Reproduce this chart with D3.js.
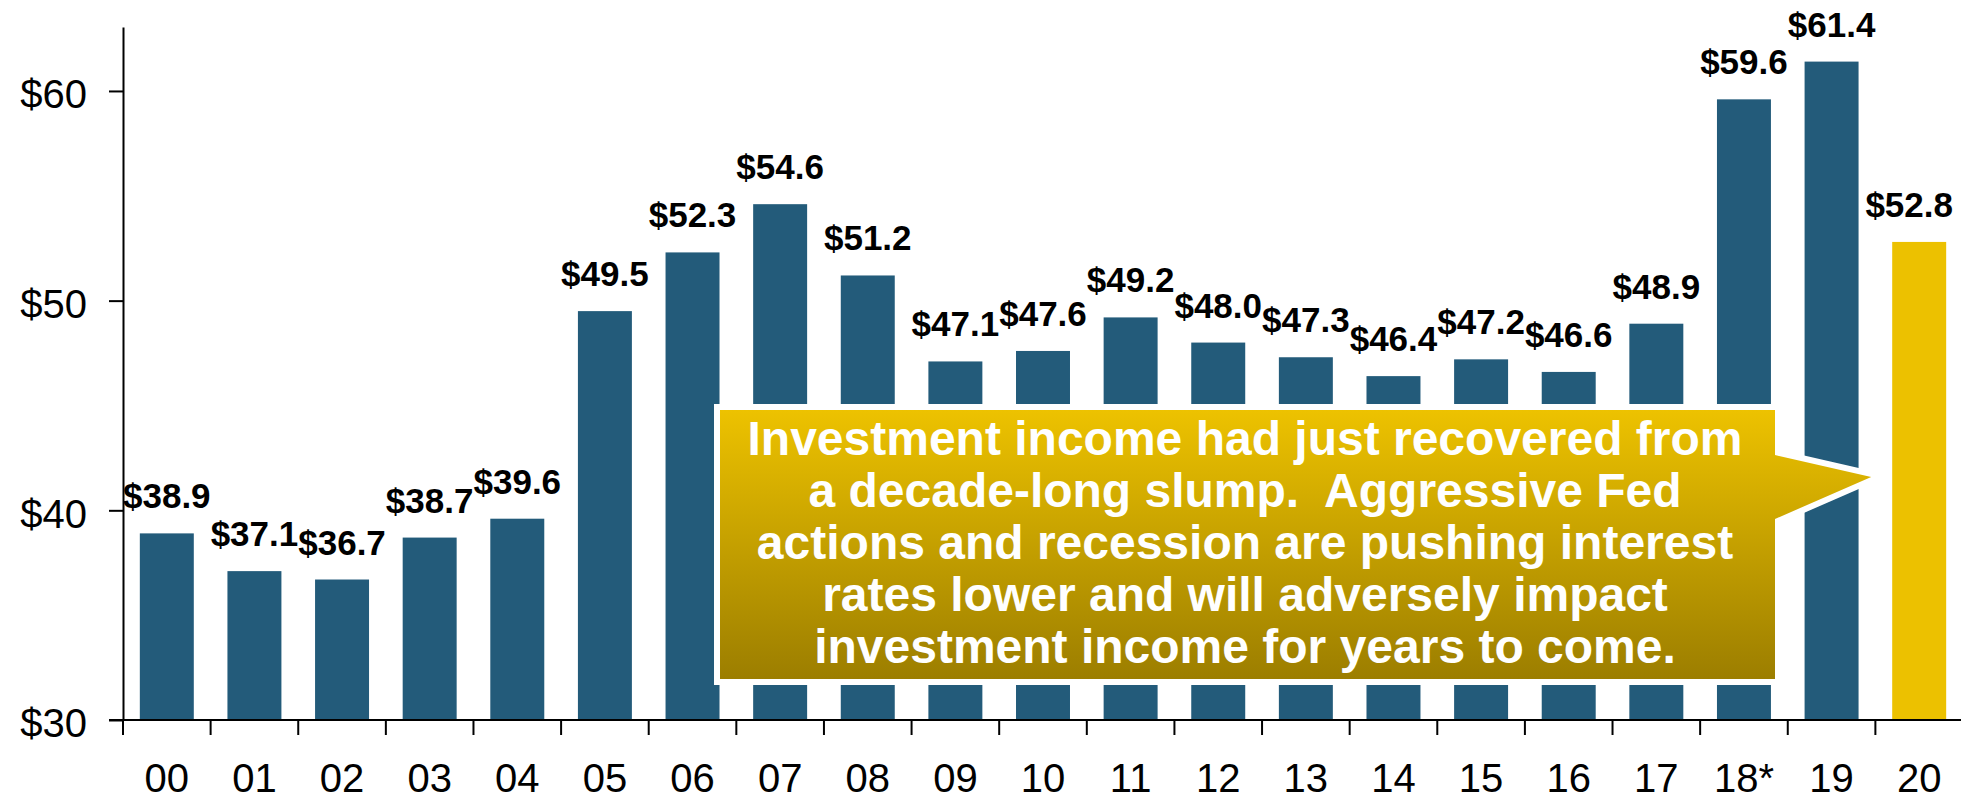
<!DOCTYPE html>
<html>
<head>
<meta charset="utf-8">
<script src="https://cdn.jsdelivr.net/npm/d3@7"></script>
<style>
  body { margin: 0; background: #fff; }
  svg text { font-family: "Liberation Sans", Arial, sans-serif; }
</style>
</head>
<body>
<div id="chart"></div>
<script>
// data
var years = ["00", "01", "02", "03", "04", "05", "06", "07", "08", "09", "10",
             "11", "12", "13", "14", "15", "16", "17", "18*", "19", "20"];
var income = [38.9, 37.1, 36.7, 38.7, 39.6, 49.5, 52.3, 54.6, 51.2, 47.1, 47.6,
              49.2, 48.0, 47.3, 46.4, 47.2, 46.6, 48.9, 59.6, 61.4, 52.8];
var yTicks = [30, 40, 50, 60];
var noteLines = [
  "Investment income had just recovered from",
  "a decade-long slump.  Aggressive Fed",
  "actions and recession are pushing interest",
  "rates lower and will adversely impact",
  "investment income for years to come."
];

var width = 1961, height = 802;
var blue = "#235b7a", gold = "#ecc100";

var svg = d3.select("#chart")
  .append("svg")
    .attr("width", width)
    .attr("height", height);

// scales
var x = d3.scaleBand()
    .domain(years)
    .range([123, 1963])
    .paddingInner(0.384)
    .paddingOuter(0.192);

var y = d3.scaleLinear()
    .domain([30, 63.05])
    .range([720, 27]);

var data = years.map(function(d, i) { return {year: d, value: income[i]}; });

// bars
svg.selectAll("rect.bar")
  .data(data)
  .enter()
  .append("rect")
    .attr("class", "bar")
    .attr("x", d => x(d.year))
    .attr("y", d => y(d.value))
    .attr("width", x.bandwidth())
    .attr("height", d => y(30) - y(d.value))
    .style("fill", (d, i) => i === data.length - 1 ? gold : blue);

// value labels (kept inside the right edge)
svg.selectAll("text.val")
  .data(data)
  .enter()
  .append("text")
    .attr("class", "val")
    .attr("x", d => x(d.year) + x.bandwidth() / 2)
    .attr("y", d => y(d.value) - 25)
    .attr("text-anchor", "middle")
    .attr("font-size", 35)
    .attr("font-weight", "bold")
    .text(d => "$" + d.value.toFixed(1))
    .each(function() {
      var w = this.getComputedTextLength();
      var cx = +this.getAttribute("x");
      if (cx + w / 2 > width - 8) this.setAttribute("x", width - 8 - w / 2);
    });

// y axis
var yAxis = d3.axisLeft(y)
    .tickValues(yTicks)
    .tickSize(14)
    .tickSizeOuter(0)
    .tickPadding(22)
    .tickFormat(d => "$" + d);

var gy = svg.append("g")
    .attr("transform", "translate(123,0)")
    .call(yAxis);
gy.selectAll("path, line").attr("stroke", "#000").attr("stroke-width", 2);
gy.selectAll("text")
    .attr("font-size", 40)
    .attr("dy", "0.42em")
    .attr("fill", "#000");

// x axis: labels centred on bars, ticks between bars
var xAxis = d3.axisBottom(x)
    .tickSize(0)
    .tickPadding(44);

var gx = svg.append("g")
    .attr("transform", "translate(0,720)")
    .call(xAxis);
gx.select(".domain").remove();
gx.selectAll("text")
    .attr("font-size", 40)
    .attr("fill", "#000");

var boundaries = years.map(d => x(d) - x.step() * x.paddingInner() / 2);
svg.append("g")
  .selectAll("line")
  .data(boundaries)
  .enter()
  .append("line")
    .attr("x1", d => d)
    .attr("x2", d => d)
    .attr("y1", 720)
    .attr("y2", 735)
    .attr("stroke", "#000")
    .attr("stroke-width", 2);

svg.append("line")
    .attr("x1", 109)
    .attr("x2", width)
    .attr("y1", 720)
    .attr("y2", 720)
    .attr("stroke", "#000")
    .attr("stroke-width", 2);

// callout box
var defs = svg.append("defs");
var grad = defs.append("linearGradient")
    .attr("id", "goldGrad")
    .attr("x1", 0).attr("y1", 0)
    .attr("x2", 0).attr("y2", 1);
grad.append("stop").attr("offset", "0%").attr("stop-color", "#edc200");
grad.append("stop").attr("offset", "100%").attr("stop-color", "#9c7e00");

var box = {left: 720, right: 1775, top: 410, bottom: 679};
var tip = {x: x("20") - 21, y: 477};
var callout = [
  [box.left, box.top], [box.right, box.top], [box.right, 455],
  [tip.x, tip.y], [box.right, 519], [box.right, box.bottom], [box.left, box.bottom]
];

svg.append("path")
    .attr("d", d3.line()(callout) + "Z")
    .attr("fill", "url(#goldGrad)")
    .attr("stroke", "#fff")
    .attr("stroke-width", 12)
    .attr("stroke-linejoin", "miter")
    .attr("stroke-miterlimit", 10)
    .style("paint-order", "stroke");

svg.append("g")
  .selectAll("text")
  .data(noteLines)
  .enter()
  .append("text")
    .attr("x", 1245)
    .attr("y", (d, i) => 455 + i * 52)
    .attr("text-anchor", "middle")
    .attr("font-size", 48)
    .attr("font-weight", "bold")
    .attr("fill", "#fff")
    .style("white-space", "pre")
    .text(d => d);
</script>
</body>
</html>
